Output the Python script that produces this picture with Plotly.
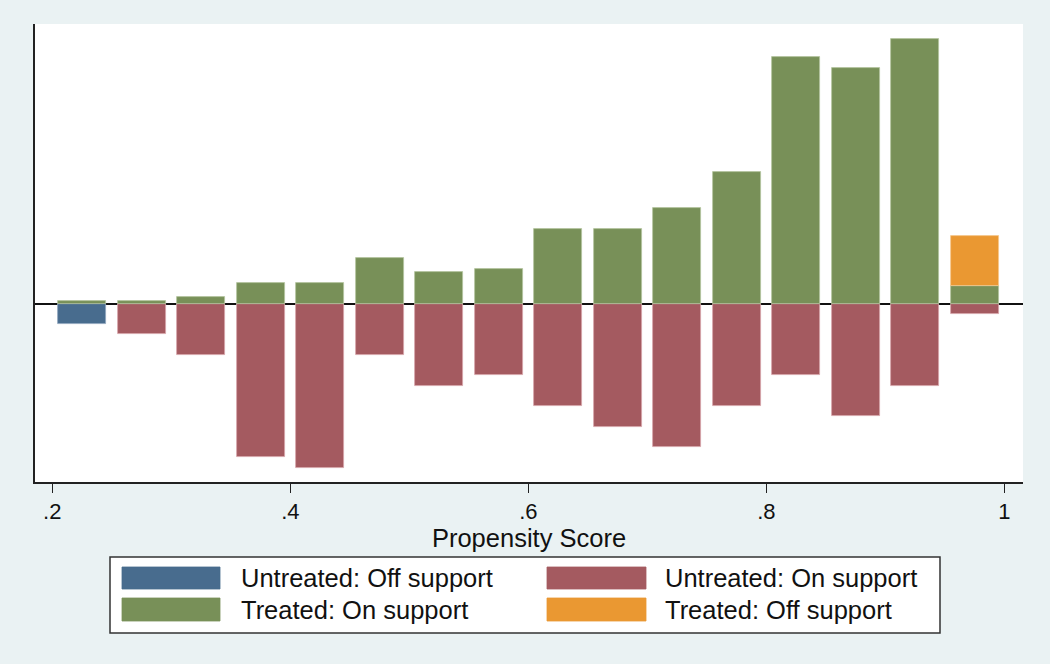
import plotly.graph_objects as go

# ---- data ----
bin_centers = [0.225, 0.275, 0.325, 0.375, 0.425, 0.475, 0.525, 0.575,
               0.625, 0.675, 0.725, 0.775, 0.825, 0.875, 0.925, 0.975]
untreated_off_x = [0.225]
untreated_off = [2]
untreated_on_x = bin_centers[1:]
untreated_on = [3, 5, 15, 16, 5, 8, 7, 10, 12, 14, 10, 7, 11, 8, 1]
treated_on = [0.26, 0.26, 0.65, 2.05, 2.05, 4.46, 3.06, 3.41,
              7.26, 7.26, 9.34, 12.88, 24.04, 23.02, 25.80, 1.73]
treated_off_x = [0.975]
treated_off = [4.88]
tick_vals = [0.2, 0.4, 0.6, 0.8, 1.0]
tick_text = [".2", ".4", ".6", ".8", "1"]
legend_names = ["Untreated: Off support", "Untreated: On support",
                "Treated: On support", "Treated: Off support"]

C_BLUE = "#486C8E"
C_RED = "#A45A60"
C_GREEN = "#789058"
C_ORANGE = "#EA9832"
BG = "#EAF2F3"
BAR_W = 0.0403
FONT = "Liberation Sans, Arial, sans-serif"

fig = go.Figure()


def add_bar(x, y, name, color, edge):
    fig.add_trace(go.Bar(x=x, y=y, name=name, width=BAR_W,
                         marker=dict(color=color, line=dict(color=edge, width=0.8)),
                         showlegend=False))


add_bar(untreated_off_x, [-v for v in untreated_off], legend_names[0], C_BLUE, "#8FA6BE")
add_bar(untreated_on_x, [-v for v in untreated_on], legend_names[1], C_RED, "#D7A5AA")
add_bar(bin_centers, treated_on, legend_names[2], C_GREEN, "#B4C49E")
add_bar(treated_off_x, treated_off, legend_names[3], C_ORANGE, "#F5C88E")

W, H = 1050, 664
L, R, T, B = 35, 27, 24, 182
pw, ph = W - L - R, H - T - B


def px(x):
    return (x - L) / pw


def py(y):
    return (H - B - y) / ph


shapes = []
annotations = []
# legend box
shapes.append(dict(type="rect", xref="paper", yref="paper",
                   x0=px(110), x1=px(940), y0=py(633), y1=py(557),
                   fillcolor="white", line=dict(color="#333333", width=1.5), layer="above"))
leg_colors = [C_BLUE, C_RED, C_GREEN, C_ORANGE]
cols = [(122, 220, 239), (547, 646, 663)]
rows = [(567, 589), (598, 621)]
for i, (nm, col) in enumerate(zip(legend_names, leg_colors)):
    r, c = divmod(i, 2)
    sx0, sx1, tx = cols[c]
    sy0, sy1 = rows[r]
    shapes.append(dict(type="rect", xref="paper", yref="paper",
                       x0=px(sx0), x1=px(sx1), y0=py(sy1), y1=py(sy0),
                       fillcolor=col, line=dict(color=col, width=0.8), layer="above"))
    annotations.append(dict(xref="paper", yref="paper", x=px(tx), y=py((sy0 + sy1) / 2),
                            text=nm, showarrow=False, xanchor="left", yanchor="middle",
                            font=dict(family=FONT, size=25.5, color="#111111")))

fig.update_layout(
    width=W, height=H,
    margin=dict(l=L, r=R, t=T, b=B),
    paper_bgcolor=BG, plot_bgcolor="white",
    barmode="relative", bargap=0,
    font=dict(family=FONT, color="#111111"),
    shapes=shapes, annotations=annotations,
    xaxis=dict(range=[0.1855, 1.0156], tickvals=tick_vals, ticktext=tick_text,
               ticks="outside", ticklen=9, tickwidth=1.3, tickcolor="#222222",
               showgrid=False, zeroline=False, showline=True, linecolor="#222222",
               linewidth=1.5, tickfont=dict(size=22, family=FONT),
               title=dict(text="Propensity Score", font=dict(size=25.5, family=FONT), standoff=0)),
    yaxis=dict(range=[-17.40, 27.29], showticklabels=False, ticks="", showgrid=False,
               zeroline=True, zerolinecolor="#111111", zerolinewidth=1.5,
               showline=True, linecolor="#222222", linewidth=1.5),
)

fig.write_html("out.html", config={"displayModeBar": False},
               post_script="document.body.style.margin='0';document.body.style.background='" + BG + "';")
